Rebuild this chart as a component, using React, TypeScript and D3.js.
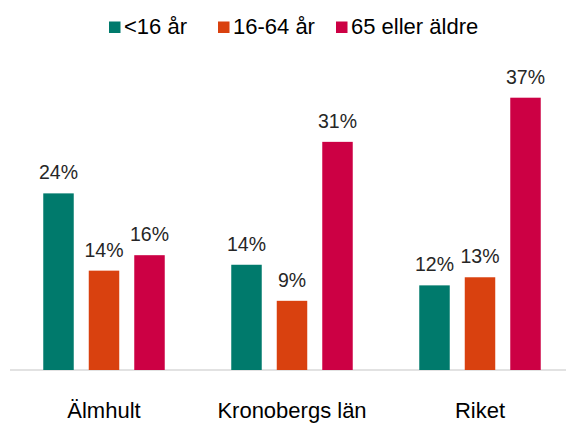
import * as d3 from "d3";

const groups = ["Älmhult", "Kronobergs län", "Riket"];
const series = ["<16 år", "16-64 år", "65 eller äldre"];
const colors = ["#007A6C", "#D9410F", "#CC0044"];
const under16 = [24.0, 14.3, 11.5];
const age16to64 = [13.5, 9.4, 12.6];
const over65 = [15.6, 31.0, 37.0];

const W = 566;
const H = 424;
const FONT = "'Liberation Sans', Arial, sans-serif";

export default function App() {
  const values = [under16, age16to64, over65];
  const baseline = 370;

  const x0 = d3.scaleBand().domain(groups).range([10, 574]);
  const x1 = d3
    .scaleBand()
    .domain(series)
    .range([-68.25, 68.25])
    .paddingInner(0.33)
    .paddingOuter(0.165);
  const y = d3.scaleLinear().domain([0, 37]).range([baseline, 97.7]);

  // legend layout
  const legendX = [109, 218, 336];

  return (
    <svg
      width={W}
      height={H}
      style={{ position: "absolute", left: 0, top: 0, background: "#fff" }}
      fontFamily={FONT}
    >
      {series.map((s, i) => (
        <g key={s} transform={`translate(${legendX[i]},0)`}>
          <rect x={0} y={21.5} width={11.5} height={11.5} fill={colors[i]} />
          <text x={15} y={33.5} fontSize={22} fill="#000">
            {s}
          </text>
        </g>
      ))}

      <line x1={10} x2={566} y1={baseline} y2={baseline} stroke="#d9d9d9" strokeWidth={1.5} />

      {groups.map((g, gi) => {
        const cx = (x0(g) ?? 0) + x0.bandwidth() / 2;
        return (
          <g key={g}>
            {series.map((s, si) => {
              const v = values[si][gi];
              const bx = cx + (x1(s) ?? 0);
              return (
                <g key={s}>
                  <rect
                    x={bx}
                    y={y(v)}
                    width={x1.bandwidth()}
                    height={baseline - y(v)}
                    fill={colors[si]}
                  />
                  <text
                    x={bx + x1.bandwidth() / 2}
                    y={y(v) - 14}
                    textAnchor="middle"
                    fontSize={19.5}
                    fill="#262626"
                  >
                    {Math.round(v)}%
                  </text>
                </g>
              );
            })}
            <text x={cx} y={418} textAnchor="middle" fontSize={22} fill="#000">
              {g}
            </text>
          </g>
        );
      })}
    </svg>
  );
}
